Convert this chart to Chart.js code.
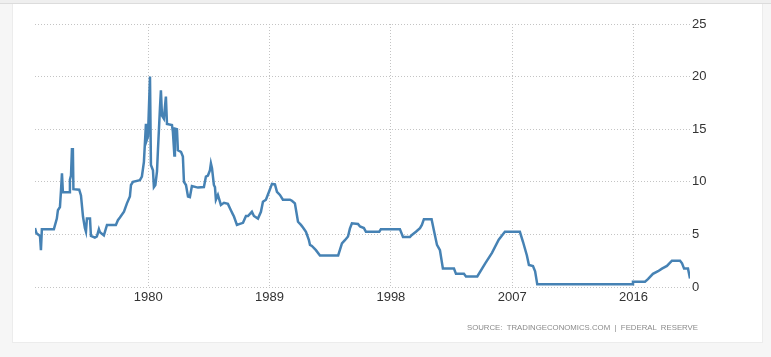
<!DOCTYPE html>
<html>
<head>
<meta charset="utf-8">
<script src="https://cdn.jsdelivr.net/npm/chart.js@4/dist/chart.umd.min.js"></script>
<style>
  html, body { margin: 0; padding: 0; background: #f6f6f6; width: 771px; height: 357px; overflow: hidden; }
  #topband { position: absolute; left: 0; top: 0; width: 771px; height: 3px; background: #efefef; border-bottom: 1px solid #dcdcdc; }
  #panel { position: absolute; left: 12px; top: 4px; width: 749px; height: 338px; background: #ffffff; border: 1px solid #ececec; border-top: none; }
  #c { position: absolute; left: 0; top: 0; }
  #source { position: absolute; left: 0; top: 323px; width: 698px; text-align: right; font-family: "Liberation Sans", Arial, sans-serif; font-size: 7.8px; color: #8a8a8a; white-space: pre; }
</style>
</head>
<body>
<div id="topband"></div>
<div id="panel"></div>
<canvas id="c" width="771" height="357"></canvas>
<div id="source">SOURCE:  TRADINGECONOMICS.COM  |  FEDERAL  RESERVE</div>
<script>
// Decimal year of each observation
const years = [
  1971.60, 1971.71, 1971.97, 1972.04, 1972.11, 1973.00, 1973.22, 1973.30, 1973.45, 1973.52,
  1973.60, 1973.67, 1974.14, 1974.19, 1974.27, 1974.34, 1974.41, 1974.45, 1974.88, 1975.01,
  1975.16, 1975.30, 1975.38, 1975.45, 1975.68, 1975.75, 1976.04, 1976.19, 1976.34, 1976.42,
  1976.71, 1976.94, 1977.60, 1977.75, 1977.90, 1978.20, 1978.42, 1978.64, 1978.72, 1978.87,
  1979.38, 1979.53, 1979.68, 1979.83, 1979.90, 1979.98, 1980.13, 1980.20, 1980.35, 1980.42,
  1980.53, 1980.65, 1980.72, 1980.87, 1980.94, 1981.02, 1981.16, 1981.31, 1981.39, 1981.76,
  1981.83, 1981.94, 1981.98, 1982.13, 1982.20, 1982.43, 1982.57, 1982.65, 1982.80, 1982.95,
  1983.09, 1983.24, 1983.69, 1984.13, 1984.28, 1984.43, 1984.58, 1984.65, 1984.73, 1984.87,
  1984.95, 1985.02, 1985.17, 1985.39, 1985.62, 1985.91, 1986.13, 1986.28, 1986.36, 1986.58,
  1986.80, 1987.03, 1987.25, 1987.40, 1987.69, 1987.84, 1988.14, 1988.36, 1988.51, 1988.73,
  1988.96, 1989.18, 1989.40, 1989.55, 1989.77, 1989.99, 1990.51, 1990.66, 1990.88, 1991.11,
  1991.33, 1991.48, 1991.70, 1991.92, 1992.00, 1992.14, 1992.44, 1992.74, 1994.09, 1994.37,
  1994.59, 1994.82, 1994.96, 1995.11, 1995.56, 1995.71, 1996.00, 1996.15, 1997.14, 1997.26,
  1998.67, 1998.90, 1999.41, 1999.56, 1999.86, 2000.16, 2000.30, 2000.45, 2001.02, 2001.19,
  2001.42, 2001.64, 2001.86, 2002.68, 2002.83, 2003.42, 2003.57, 2004.41, 2005.00, 2005.50,
  2006.00, 2006.46, 2007.57, 2007.80, 2008.09, 2008.24, 2008.54, 2008.70, 2008.86, 2015.94,
  2015.96, 2016.85, 2017.07, 2017.44, 2017.82, 2018.11, 2018.48, 2018.85, 2019.45, 2019.60,
  2019.75, 2020.04, 2020.19
];
// Interest rate (%)
const rates = [
  5.6, 5.1, 4.85, 3.5, 5.5, 5.5, 6.5, 7.3, 7.6, 9.0,
  10.8, 9.0, 9.0, 10.2, 10.6, 13.1, 13.1, 9.3, 9.25, 8.7,
  6.7, 5.6, 5.25, 6.5, 6.5, 4.85, 4.7, 4.8, 5.5, 5.2,
  4.9, 5.9, 5.9, 6.35, 6.6, 7.15, 7.95, 8.6, 9.7, 10.0,
  10.15, 10.5, 11.9, 15.5, 14.0, 14.3, 20.0, 11.6, 11.1, 9.5,
  9.7, 11.0, 13.0, 17.0, 18.7, 16.3, 16.0, 18.1, 15.5, 15.4,
  14.75, 12.5, 15.05, 15.0, 13.0, 12.85, 12.4, 10.0, 9.7, 8.6,
  8.55, 9.6, 9.45, 9.5, 10.5, 10.6, 11.1, 11.75, 11.3, 9.7,
  9.5, 8.3, 8.75, 7.8, 8.0, 7.9, 7.3, 6.9, 6.7, 5.9,
  6.0, 6.1, 6.75, 6.75, 7.15, 6.75, 6.5, 7.15, 8.1, 8.3,
  9.05, 9.8, 9.75, 9.05, 8.75, 8.3, 8.3, 8.2, 7.95, 6.2,
  5.9, 5.65, 5.25, 4.45, 4.0, 3.9, 3.5, 3.0, 3.0, 4.15,
  4.45, 4.8, 5.55, 6.05, 6.0, 5.75, 5.6, 5.25, 5.25, 5.5,
  5.5, 4.75, 4.75, 4.95, 5.25, 5.6, 5.9, 6.45, 6.45, 5.4,
  4.0, 3.5, 1.75, 1.75, 1.25, 1.25, 1.0, 1.0, 2.25, 3.25,
  4.5, 5.25, 5.25, 4.3, 3.0, 2.1, 2.0, 1.5, 0.25, 0.25,
  0.5, 0.5, 0.75, 1.25, 1.5, 1.75, 2.0, 2.5, 2.5, 2.25,
  1.75, 1.75, 0.8
];
const xTickYears = [1980, 1989, 1998, 2007, 2016];
const yTicks = [0, 5, 10, 15, 20, 25];

const tickFont = { family: '"Liberation Sans Narrow", "Arial Narrow", "Liberation Sans", sans-serif', size: 13 };
const gridColor = '#c4c4c4';

new Chart(document.getElementById('c'), {
  type: 'line',
  data: {
    datasets: [{
      data: years.map((x, i) => ({ x: x, y: rates[i] })),
      borderColor: '#4682b4',
      borderWidth: 2.5,
      pointRadius: 0,
      tension: 0,
      fill: false
    }]
  },
  options: {
    responsive: false,
    animation: false,
    events: [],
    layout: { padding: { left: 35, top: 24, right: 0, bottom: 0 } },
    plugins: { legend: { display: false }, tooltip: { enabled: false } },
    scales: {
      x: {
        type: 'linear',
        min: years[0],
        max: years[years.length - 1],
        afterBuildTicks: s => { s.ticks = xTickYears.map(v => ({ value: v })); },
        afterFit: s => { s.height = 70; },
        ticks: { autoSkip: false, maxRotation: 0, padding: 3, color: '#333', font: tickFont, callback: v => String(v) },
        grid: { color: gridColor, lineWidth: 1, drawTicks: false },
        border: { display: false, dash: [1, 2] }
      },
      y: {
        position: 'right',
        min: 0,
        max: 25,
        afterBuildTicks: s => { s.ticks = yTicks.map(v => ({ value: v })); },
        afterFit: s => { s.width = 81; },
        ticks: { padding: 2, color: '#333', font: tickFont, callback: v => String(v) },
        grid: { color: gridColor, lineWidth: 1, drawTicks: false },
        border: { display: false, dash: [1, 2] }
      }
    }
  }
});
</script>
</body>
</html>
